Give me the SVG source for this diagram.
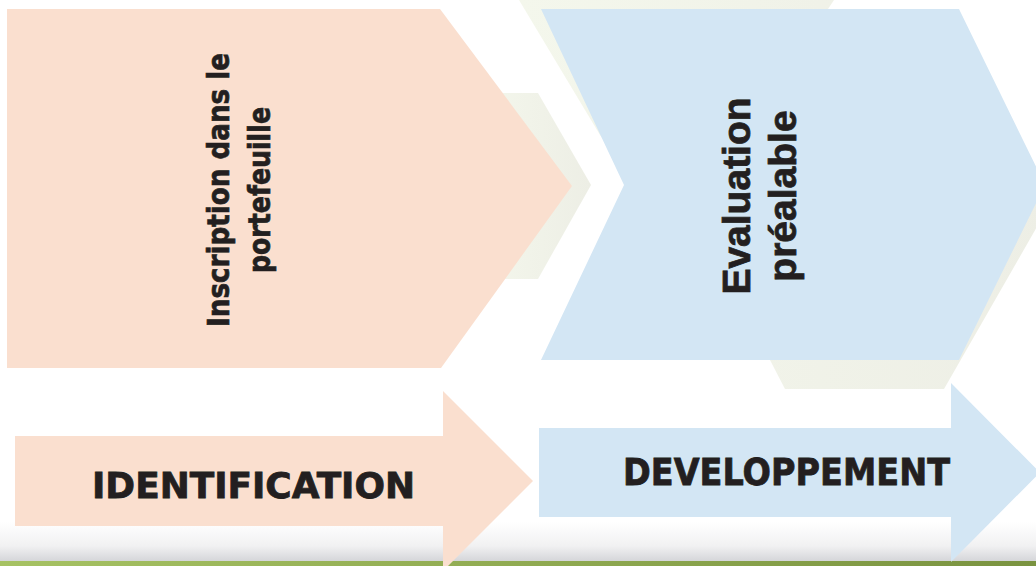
<svg xmlns="http://www.w3.org/2000/svg" width="1036" height="566" viewBox="0 0 1036 566">
  <defs>
    <linearGradient id="floor" x1="0" y1="0" x2="0" y2="1">
      <stop offset="0" stop-color="#ffffff"/>
      <stop offset="0.6" stop-color="#f1f1f2"/>
      <stop offset="1" stop-color="#d3d4d8"/>
    </linearGradient>
    <linearGradient id="grass" x1="0" y1="0" x2="1" y2="0">
      <stop offset="0" stop-color="#a6c263"/>
      <stop offset="1" stop-color="#7a9340"/>
    </linearGradient>
    <linearGradient id="shade" x1="0" y1="0" x2="1" y2="0">
      <stop offset="0" stop-color="#f4f7ec"/>
      <stop offset="1" stop-color="#edeee5"/>
    </linearGradient>
  </defs>
  <style>
    .peach { fill: #fadfcf; }
    .blue { fill: #d3e6f4; }
    .shadow { fill: url(#shade); }
    .vlabel { font-family: "DejaVu Sans", Verdana, sans-serif; font-weight: bold; fill: #231f20; stroke: #231f20; stroke-width: 0.7; }
    .vlabel2 { font-family: "Liberation Sans", Arial, sans-serif; font-weight: bold; fill: #231f20; stroke: #231f20; stroke-width: 0.8; }
    .hlabel { font-family: "DejaVu Sans", Verdana, sans-serif; font-weight: bold; fill: #231f20; stroke: #231f20; stroke-width: 0.8; }
  </style>

  <rect x="0" y="0" width="1036" height="566" fill="#ffffff"/>

  <!-- floor strip -->
  <rect x="0" y="522" width="1036" height="40" fill="url(#floor)"/>
  <rect x="0" y="561" width="1036" height="5" fill="url(#grass)"/>

  <!-- back layer chevrons -->
  <g id="shadow-back">
    <polygon class="shadow" points="480,93 538,93 591,185 538,279 480,279"/>
    <polygon class="shadow" points="519,0 834,0 828,9 1055,195 1022,253 944,389 785,389 770,360 650,200 600,135"/>
  </g>

  <!-- stage 1 -->
  <g id="stage-inscription">
    <polygon class="peach" points="7,9 440,9 572,186 441,368 7,368"/>
    <g transform="translate(229,190) rotate(-90)">
      <text class="vlabel" x="0" y="0" font-size="30" text-anchor="middle" textLength="274" lengthAdjust="spacingAndGlyphs">Inscription dans le</text>
    </g>
    <g transform="translate(270,190) rotate(-90)">
      <text class="vlabel" x="0" y="0" font-size="30" text-anchor="middle" textLength="166" lengthAdjust="spacingAndGlyphs">portefeuille</text>
    </g>
  </g>

  <!-- stage 2 -->
  <g id="stage-evaluation">
    <polygon class="blue" points="541,9 959,9 1045,185 959,360 541,360 624,185"/>
    <g transform="translate(750,196) rotate(-90)">
      <text class="vlabel2" x="0" y="0" font-size="39" text-anchor="middle">Evaluation</text>
    </g>
    <g transform="translate(796,196) rotate(-90)">
      <text class="vlabel2" x="0" y="0" font-size="39" text-anchor="middle">préalable</text>
    </g>
  </g>

  <!-- phase arrows -->
  <g id="phase-identification">
    <polygon class="peach" points="15,436 443,436 443,391 533,481 443,571 443,526 15,526"/>
    <text class="hlabel" x="253.5" y="498" font-size="35" text-anchor="middle" textLength="323" lengthAdjust="spacingAndGlyphs">IDENTIFICATION</text>
  </g>

  <g id="phase-developpement">
    <polygon class="blue" points="539,428 951,428 951,383 1040,472.5 951,562 951,517 539,517"/>
    <text class="hlabel" x="786.5" y="485" font-size="38" text-anchor="middle" textLength="327" lengthAdjust="spacingAndGlyphs">DEVELOPPEMENT</text>
  </g>

  <g id="connectors"/>
</svg>
